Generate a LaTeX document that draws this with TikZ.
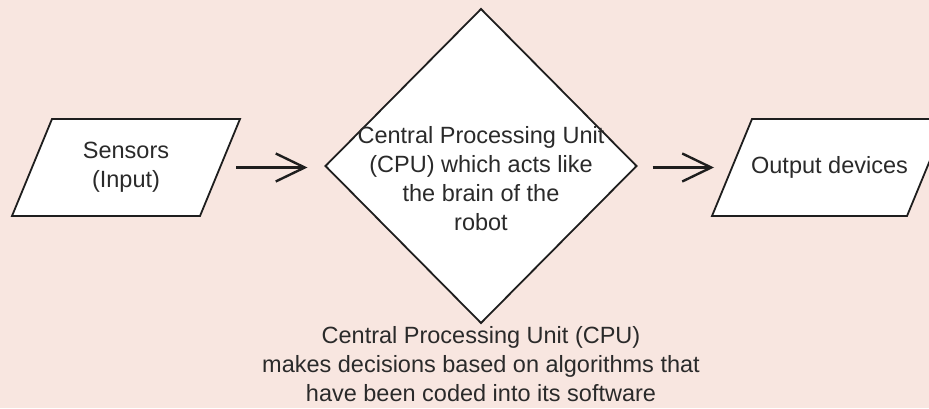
\documentclass[tikz,border=0pt]{standalone}
\usepackage{fontspec}
\setmainfont{Liberation Sans}
\usetikzlibrary{shapes.geometric,arrows.meta,backgrounds}
\definecolor{bgpink}{HTML}{F8E6E0}
\definecolor{inkline}{HTML}{1E1E1E}
\definecolor{inktext}{HTML}{2A2A2A}
\begin{document}
\begin{tikzpicture}[x=1pt,y=1pt,
  every node/.style={font=\fontsize{23.5}{29}\selectfont, text=inktext},
  iobox/.style={rectangle, minimum height=97pt, align=center,
    inner sep=0pt, outer sep=0pt},
  ioframe/.style={draw=inkline, line width=1.8pt, fill=white, line join=miter},
  decisionbox/.style={diamond, minimum width=311pt, minimum height=314pt,
    draw=inkline, line width=1.8pt, fill=white, inner sep=0pt, outer sep=0pt},
  flowarrow/.style={draw=inkline, line width=2.4pt,
    -{Straight Barb[length=29pt,width=28pt,line width=2.4pt]}},
  caption/.style={align=center, inner sep=0pt}]
  % canvas
  \begin{scope}[on background layer]
    \path[use as bounding box, fill=bgpink] (0,0) rectangle (929,408);
  \end{scope}
  \clip (0,0) rectangle (929,408);

  % input, processing, output
  \node[iobox, minimum width=188pt] (sensors) at (126,240.5) {Sensors\\(Input)};
  \node[decisionbox] (cpu) at (481,242) {};
  \node[caption] (cputext) at (481,229)
    {Central Processing Unit\\(CPU) which acts like\\the brain of the\\robot};
  \node[iobox, minimum width=195pt] (output) at (829.5,240.5) {Output devices};

  % slanted input/output frames behind their labels
  \begin{scope}[on background layer]
    \foreach \ioname in {sensors, output}
      \draw[ioframe] ([xshift=20pt]\ioname.north west) -- ([xshift=20pt]\ioname.north east)
        -- ([xshift=-20pt]\ioname.south east) -- ([xshift=-20pt]\ioname.south west) -- cycle;
  \end{scope}

  % flow, kept level with the input/output boxes
  \draw[flowarrow] ([xshift=16pt]sensors.east) -- ([xshift=-18pt]cpu.west |- sensors.east);
  \draw[flowarrow] ([xshift=16pt]cpu.east |- output.west) -- ([xshift=-18pt]output.west);

  % explanation under the processor
  \node[caption] (note) at (481,44)
    {Central Processing Unit (CPU)\\makes decisions based on algorithms that\\have been coded into its software};
\end{tikzpicture}
\end{document}
